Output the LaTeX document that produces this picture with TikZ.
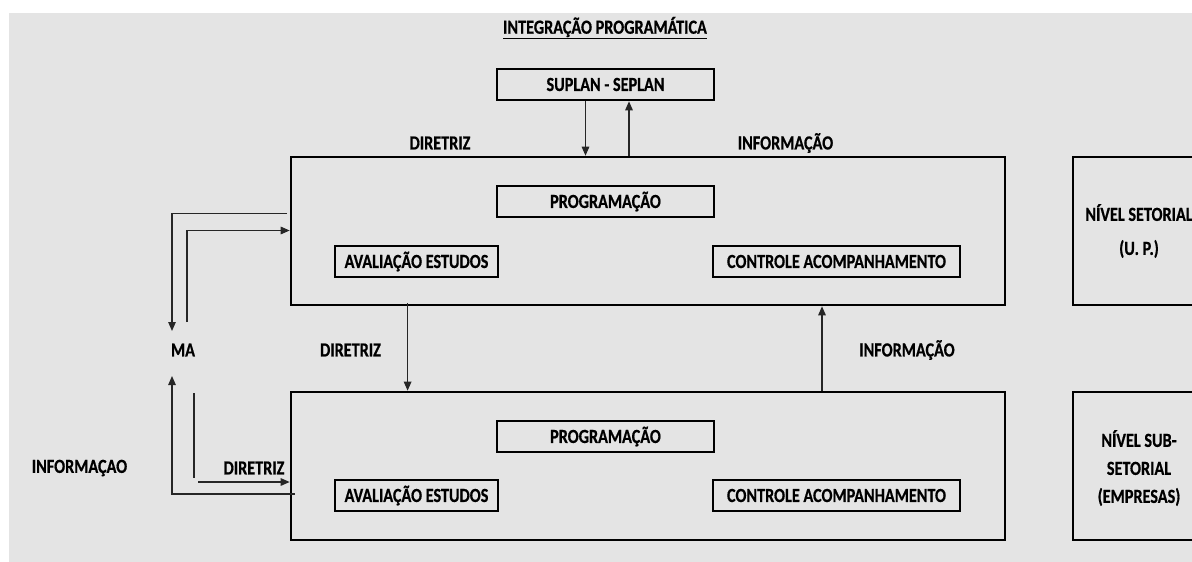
\documentclass[tikz,border=0pt]{standalone}
\usepackage{fontspec}
\setmainfont[FakeStretch=0.81,BoldFeatures={FakeBold=0.6}]{Carlito}
\usetikzlibrary{arrows.meta}
\definecolor{bggray}{HTML}{E4E4E4}
\tikzset{
  lbl/.style={font=\bfseries\fontsize{20}{24}\selectfont, inner sep=0pt, text=black},
  smallbox/.style={lbl, draw=black, line width=2.6pt, minimum height=31pt, inner sep=0pt},
  bigbox/.style={draw=black, line width=2.6pt, inner sep=0pt},
  conn/.style={draw=black!85, line width=1.3pt},
  arr/.style={conn, -{Triangle[length=9pt,width=7.5pt]}},
}
\begin{document}
\begin{tikzpicture}[x=1pt,y=-1pt]
\useasboundingbox (0,0) rectangle (1192,562);
\clip (0,0) rectangle (1192,562);
\fill[white] (0,0) rectangle (1192,562);
\fill[bggray] (9,13) rectangle (1192,562);

% title
\node[lbl] (title) at (605,28) {\underline{INTEGRAÇÃO PROGRAMÁTICA}};

% top box
\node[smallbox, minimum width=217pt] (sup) at (605.5,84.5) {SUPLAN - SEPLAN};

% big boxes
\node[bigbox, minimum width=714pt, minimum height=148pt] (up) at (648,231) {};
\node[bigbox, minimum width=714pt, minimum height=148pt] (lo) at (648,466) {};

% inner boxes upper
\node[smallbox, minimum width=217pt] (prog1) at (605.5,201.5) {PROGRAMAÇÃO};
\node[smallbox, minimum width=163pt] (aval1) at (416.5,261.5) {AVALIAÇÃO ESTUDOS};
\node[smallbox, minimum width=247pt] (ctrl1) at (836.5,261.5) {CONTROLE ACOMPANHAMENTO};

% inner boxes lower
\node[smallbox, minimum width=217pt] (prog2) at (605.5,436.5) {PROGRAMAÇÃO};
\node[smallbox, minimum width=163pt] (aval2) at (416.5,495.5) {AVALIAÇÃO ESTUDOS};
\node[smallbox, minimum width=247pt] (ctrl2) at (836.5,495.5) {CONTROLE ACOMPANHAMENTO};

% level boxes
\node[bigbox, minimum width=132pt, minimum height=148pt] (nset) at (1139,231) {};
\node[lbl, align=center, font=\bfseries\fontsize{20}{34}\selectfont] (nsett) at (1139,231) {NÍVEL SETORIAL\\(U. P.)};
\node[bigbox, minimum width=132pt, minimum height=148pt] (nsub) at (1139,466) {};
\node[lbl, align=center, font=\bfseries\fontsize{20}{28}\selectfont] (nsubt) at (1139,468) {NÍVEL SUB-\\SETORIAL\\(EMPRESAS)};

% labels
\node[lbl] (dir1) at (440,143) {DIRETRIZ};
\node[lbl] (inf1) at (785.5,143) {INFORMAÇÃO};
\node[lbl] (ma) at (183,350) {MA};
\node[lbl] (dir2) at (350.5,350) {DIRETRIZ};
\node[lbl] (inf2) at (907,350) {INFORMAÇÃO};
\node[lbl] (inf3) at (79.5,468) {INFORMAÇAO};
\node[lbl] (dir3) at (254,468) {DIRETRIZ};

% helper coordinates
\coordinate (xa) at (585.5,0);
\coordinate (xb) at (629,0);
\coordinate (xc) at (407.6,0);
\coordinate (xd) at (822,0);

% top connectors
\draw[arr] (sup.south -| xa) -- (up.north -| xa);
\draw[arr] (up.north -| xb) -- (sup.south -| xb);

% middle connectors
\draw[arr] ([yshift=3pt]up.south -| xc) -- (lo.north -| xc);
\draw[arr] (lo.north -| xd) -- (up.south -| xd);

% left connectors
\coordinate (l1a) at (287,213.7);
\coordinate (l1b) at (172,213.7);
\coordinate (l1c) at (172,331);
\draw[arr] (l1a) -- (l1b) -- (l1c);

\coordinate (l2a) at (187,322);
\coordinate (l2b) at (187,230.5);
\draw[arr] (l2a) -- (l2b) -- (l2b -| up.west);

\coordinate (l3a) at (295,494);
\coordinate (l3b) at (172,494);
\coordinate (l3c) at (172,376);
\draw[arr] (l3a) -- (l3b) -- (l3c);

\coordinate (l4a) at (194,393);
\coordinate (l4b) at (194,478);
\coordinate (l4c) at (198,482);
\draw[conn] (l4a) -- (l4b);
\draw[arr] (l4c) -- (l4c -| lo.west);
\end{tikzpicture}
\end{document}
